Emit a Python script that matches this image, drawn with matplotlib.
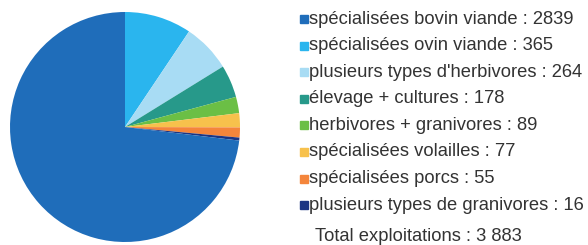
import matplotlib.pyplot as plt
from matplotlib.patches import Rectangle

plt.rcParams['font.family'] = ['Liberation Sans', 'DejaVu Sans']

categories = ['spécialisées bovin viande', 'spécialisées ovin viande',
              "plusieurs types d'herbivores", 'élevage + cultures',
              'herbivores + granivores', 'spécialisées volailles',
              'spécialisées porcs', 'plusieurs types de granivores']
values = [2839, 365, 264, 178, 89, 77, 55, 16]
colors = ['#1f6dba', '#2ab5ee', '#a8dcf4', '#27998a', '#6bbf45',
          '#f7c14c', '#f4853b', '#1c3583']
total_label = 'Total exploitations : 3 883'

W, H = 588, 245
fig = plt.figure(figsize=(W / 100, H / 100), dpi=100)

# camembert : on commence en haut, sens horaire, la grosse part en dernier
ax = fig.add_axes([10 / W, 1 - 242 / H, 230 / W, 230 / H])
order = list(range(1, len(values))) + [0]
ax.pie([values[i] for i in order], colors=[colors[i] for i in order],
       startangle=90, counterclock=False,
       wedgeprops=dict(linewidth=0))
ax.set_xlim(-1, 1)
ax.set_ylim(-1, 1)
ax.set_aspect('equal')

# légende manuelle
y0, dy = 19, 26.6
for i, (lab, val, col) in enumerate(zip(categories, values, colors)):
    y = y0 + i * dy
    fig.patches.append(Rectangle((300 / W, 1 - (y + 4) / H), 8 / W, 8 / H,
                                 transform=fig.transFigure, color=col))
    fig.text(309 / W, 1 - y / H, f'{lab} : {val}', fontsize=13.2,
             color='#333333', va='center', ha='left')

fig.text(315 / W, 1 - 236 / H, total_label, fontsize=13.2,
         color='#333333', va='center', ha='left')

fig.savefig('out.png', dpi=100)
